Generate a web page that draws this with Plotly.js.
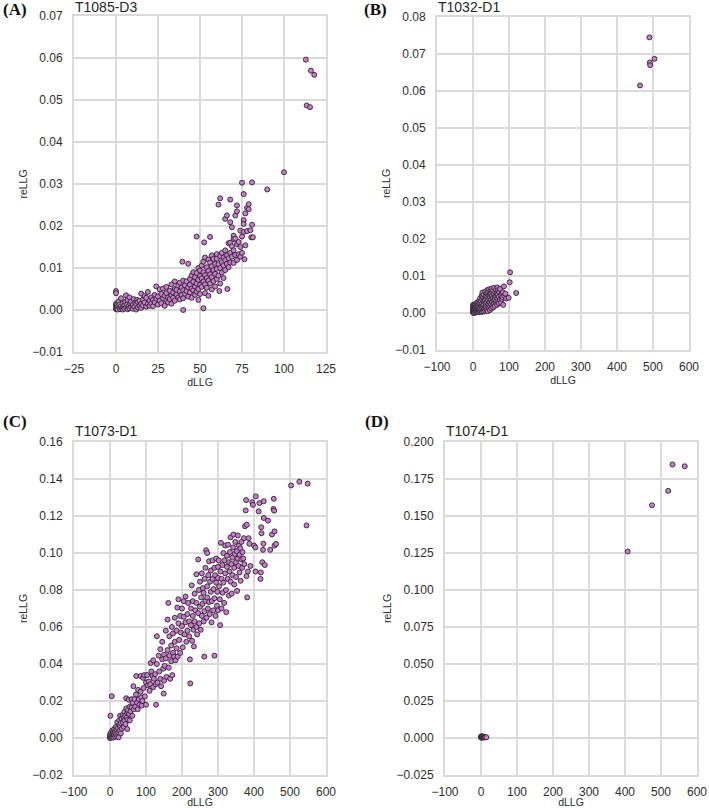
<!DOCTYPE html>
<html>
<head>
<meta charset="utf-8">
<script src="https://cdn.plot.ly/plotly-3.0.1.min.js"></script>
<style>html,body{margin:0;padding:0;background:#fff;}#chart{width:709px;height:808px;}</style>
</head>
<body>
<div id="chart"></div>
<script>
// Panel labels and titles
const panelLabels = ["(A)", "(B)", "(C)", "(D)"];
const panelTitles = ["T1085-D3", "T1032-D1", "T1073-D1", "T1074-D1"];
const xLabel = "dLLG";
const yLabel = "reLLG";

// Panel A: T1085-D3
const aX = [0,0,0,0,0,0,0.5,0.5,1,1,
1.5,2,2,2.5,3,3,3.5,4,4,4.5,
5,5,5.5,6,6,6.5,7,7,7.5,8,
8,8.5,9,9,10,10,10.5,11,11.5,12,
12,12.5,13,13,14,14,15,15,15,16,
16,17,17,18,18,19,19,20,20,21,
21,22,22,23,23,24,24,25,25,26,
26,27,27,28,28,29,29,30,30,30,
31,31,32,32,33,33,33,34,34,35,
35,35,36,36,37,37,38,38,38,39,
39,39.5,40,40,40,40,41,41,42,42,
43,43,43,44,44,44,45,45,45,46,
46,46,47,47,47,48,48,48,48,49,
49,49,49,50,50,50,50,51,51,51,
52,52,52,52,52.5,53,53,53,53,54,
54,54,55,55,55,55,56,56,56,56,
57,57,57,57,58,58,58,59,59,59,
60,60,60,60,61,61,61,61.5,62,62,
62,62,63,63,63,64,64,64,65,65,
65,65,66,66,66,66.3,67,67,67,68,
68,68,68,68,69,69,69,70,70,70,
70,71,71,71,72,72,72,72,73,73,
74,74,74,75,75,75,76,76,76,76,
76.5,77,77,78,78,79,79,80,80.5,81,
81,81.5,90,100,113,116,118,113.5,115.5];
const aY = [0.0045,0.0040,0.0015,0.0010,0.0005,0.0002,0.0012,0.0003,0.0008,0.0001,
0.0020,0.0005,0.0013,0.0002,0.0028,0.0009,0.0004,0.0016,0.0001,0.0007,
0.0011,0.0003,0.0019,0.0035,0.0006,0.0013,0.0002,0.0024,0.0009,0.0030,
0.0004,0.0015,0.0007,0.0020,0.0003,0.0012,0.0026,0.0008,0.0018,0.0001,
0.0014,0.0024,0.0006,0.0019,0.0010,0.0022,0.0005,0.0015,0.0039,0.0011,
0.0025,0.0033,0.0018,0.0008,0.0029,0.0043,0.0015,0.0022,0.0010,0.0030,
0.0016,0.0024,0.0009,0.0036,0.0019,0.0056,0.0027,0.0013,0.0032,0.0049,
0.0022,0.0016,0.0038,0.0051,0.0028,0.0010,0.0034,0.0055,0.0023,0.0040,
0.0018,0.0030,0.0046,0.0026,0.0061,0.0035,0.0015,0.0042,0.0029,0.0068,
0.0050,0.0022,0.0037,0.0048,0.0058,0.0030,0.0044,0.0065,0.0025,0.0053,
0.0036,0.0115,0.0000,0.0047,0.0070,0.0028,0.0059,0.0039,0.0068,0.0045,
0.0110,0.0054,0.0032,0.0074,0.0060,0.0042,0.0082,0.0051,0.0029,0.0067,
0.0047,0.0090,0.0078,0.0056,0.0036,0.0088,0.0063,0.0044,0.0175,0.0100,
0.0072,0.0050,0.0024,0.0094,0.0081,0.0060,0.0038,0.0106,0.0075,0.0055,
0.0115,0.0090,0.0068,0.0004,0.0161,0.0125,0.0083,0.0061,0.0040,0.0102,
0.0076,0.0053,0.0120,0.0093,0.0070,0.0034,0.0174,0.0113,0.0085,0.0063,
0.0130,0.0104,0.0078,0.0049,0.0122,0.0095,0.0069,0.0110,0.0086,0.0056,
0.0133,0.0122,0.0098,0.0074,0.0251,0.0109,0.0082,0.0045,0.0266,0.0128,
0.0100,0.0063,0.0136,0.0114,0.0089,0.0125,0.0106,0.0076,0.0142,0.0119,
0.0217,0.0095,0.0225,0.0130,0.0110,0.0050,0.0159,0.0123,0.0102,0.0263,
0.0209,0.0160,0.0136,0.0113,0.0197,0.0152,0.0127,0.0177,0.0169,0.0142,
0.0112,0.0225,0.0170,0.0131,0.0249,0.0235,0.0157,0.0119,0.0133,0.0162,
0.0189,0.0150,0.0127,0.0303,0.0175,0.0136,0.0276,0.0214,0.0205,0.0186,
0.0121,0.0230,0.0154,0.0243,0.0188,0.0252,0.0240,0.0190,0.0173,0.0304,
0.0203,0.0173,0.0287,0.0328,0.0596,0.0570,0.0560,0.0487,0.0483];

// Panel B: T1032-D1
const bX = [0,0,0,0,0,1,1,2,2,2,
3,3,4,4,5,5,5,6,6,7,
7,8,8,9,10,10,10,11,12,12,
13,13,14,15,15,15,16,17,17,18,
18,19,20,20,20,21,22,22,23,24,
24,25,25,26,26,27,28,28,29,30,
30,30,31,32,32,33,34,34,35,35,
36,37,38,38,39,40,40,40,41,42,
42,43,44,44,45,45,46,47,47,48,
48,49,50,50,50,51,52,52,53,54,
54,55,56,56,57,58,58,59,60,60,
61,62,63,64,64,65,66,67,68,68,
69,70,70,72,72,73,75,75,77,78,
80,80,82,83,84,86,87,90,92,99,
102,103,120,464,490,491,492,504];
const bY = [0.0001,0.0005,0.0010,0.0015,0.0022,0.0003,0.0018,0.0000,0.0008,0.0013,
0.0005,0.0020,0.0002,0.0011,0.0006,0.0016,0.0024,0.0001,0.0009,0.0014,
0.0022,0.0004,0.0009,0.0018,0.0002,0.0012,0.0025,0.0007,0.0016,0.0029,
0.0003,0.0010,0.0021,0.0005,0.0014,0.0030,0.0009,0.0024,0.0002,0.0017,
0.0034,0.0006,0.0012,0.0026,0.0040,0.0004,0.0019,0.0032,0.0008,0.0024,
0.0046,0.0014,0.0003,0.0036,0.0055,0.0020,0.0007,0.0043,0.0015,0.0030,
0.0050,0.0004,0.0023,0.0040,0.0011,0.0034,0.0058,0.0006,0.0026,0.0046,
0.0016,0.0038,0.0052,0.0009,0.0029,0.0044,0.0019,0.0062,0.0005,0.0034,
0.0055,0.0024,0.0048,0.0013,0.0039,0.0064,0.0029,0.0051,0.0008,0.0042,
0.0018,0.0060,0.0035,0.0024,0.0053,0.0012,0.0046,0.0066,0.0030,0.0056,
0.0020,0.0040,0.0061,0.0015,0.0033,0.0050,0.0026,0.0068,0.0043,0.0019,
0.0036,0.0056,0.0027,0.0064,0.0046,0.0033,0.0052,0.0022,0.0069,0.0040,
0.0050,0.0030,0.0062,0.0044,0.0026,0.0056,0.0036,0.0065,0.0048,0.0028,
0.0053,0.0038,0.0043,0.0056,0.0022,0.0072,0.0047,0.0052,0.0039,0.0041,
0.0083,0.0110,0.0054,0.0615,0.0745,0.0677,0.0670,0.0687];

// Panel C: T1073-D1
const cX = [0,0,0,1,2,3,4,5,5,6,
7,8,9,10,10,12,12,14,15,16,
17,18,20,20,22,23,24,25,26,27,
28,28,30,30,32,33,35,36,38,38,
40,40,42,43,45,45,46,48,48,50,
50,52,53,55,55,57,60,60,62,63,
65,66,68,70,72,73,75,77,78,80,
82,85,85,87,88,90,92,93,95,97,
100,100,103,105,108,110,112,113,115,118,
120,120,122,125,127,128,130,130,132,135,
137,140,140,142,145,145,148,149,150,150,
152,155,155,157,160,160,162,163,165,165,
167,170,170,172,173,175,175,178,180,180,
182,185,185,187,188,190,190,192,195,195,
197,200,200,202,205,205,207,210,210,212,
215,215,217,220,220,222,223,225,225,227,
228,230,230,232,233,235,235,237,240,240,
240,242,245,245,247,248,250,250,252,253,
255,255,257,258,260,260,262,262,263,265,
265,267,268,270,270,270,272,273,275,275,
277,278,280,280,282,283,285,285,287,288,
290,290,290,292,293,295,295,297,298,300,
300,300,302,303,305,306,307,308,310,310,
312,313,315,315,317,318,320,320,322,323,
325,325,327,328,330,330,332,333,335,335,
337,338,340,340,342,343,345,345,347,348,
350,350,352,353,355,355,357,358,360,360,
362,363,365,365,367,368,370,372,373,375,
377,378,379,380,381,383,385,387,390,395,
397,400,404,405,413,415,418,419,420,421,
423,425,426,427,427,430,439,445,450,454,
455,456,457,457,461,503,526,549,546,404];
const cY = [0.0000,0.0010,0.0020,0.0120,0.0005,0.0030,0.0012,0.0226,0.0002,0.0040,
0.0018,0.0008,0.0035,0.0024,0.0003,0.0050,0.0015,0.0030,0.0006,0.0060,
0.0020,0.0045,0.0085,0.0010,0.0055,0.0030,0.0004,0.0070,0.0096,0.0040,
0.0120,0.0065,0.0080,0.0025,0.0105,0.0050,0.0125,0.0085,0.0110,0.0060,
0.0140,0.0095,0.0120,0.0075,0.0215,0.0160,0.0110,0.0135,0.0048,0.0100,
0.0150,0.0207,0.0130,0.0170,0.0095,0.0145,0.0210,0.0165,0.0120,0.0190,
0.0280,0.0155,0.0210,0.0170,0.0235,0.0335,0.0190,0.0155,0.0260,0.0210,
0.0180,0.0335,0.0250,0.0220,0.0175,0.0200,0.0325,0.0270,0.0340,0.0225,
0.0300,0.0180,0.0340,0.0285,0.0305,0.0255,0.0290,0.0405,0.0360,0.0335,
0.0275,0.0420,0.0320,0.0345,0.0290,0.0180,0.0550,0.0400,0.0300,0.0445,
0.0360,0.0320,0.0480,0.0280,0.0520,0.0425,0.0375,0.0240,0.0450,0.0310,
0.0390,0.0580,0.0430,0.0330,0.0640,0.0475,0.0730,0.0380,0.0445,0.0550,
0.0320,0.0500,0.0415,0.0600,0.0340,0.0460,0.0565,0.0440,0.0520,0.0650,
0.0420,0.0485,0.0580,0.0705,0.0440,0.0750,0.0620,0.0530,0.0460,0.0660,
0.0570,0.0700,0.0605,0.0490,0.0655,0.0740,0.0560,0.0625,0.0765,0.0520,
0.0670,0.0580,0.0730,0.0630,0.0550,0.0425,0.0295,0.0700,0.0610,0.0825,
0.0525,0.0660,0.0740,0.0585,0.0495,0.0630,0.0780,0.0690,0.0600,0.0730,
0.0885,0.0560,0.0675,0.0965,0.0800,0.0620,0.0710,0.0845,0.0585,0.0760,
0.0660,0.0890,0.0725,0.0810,0.0630,0.0785,0.0440,0.0685,0.0860,0.0740,
0.0920,0.1015,0.0650,0.0820,0.0760,0.1000,0.0700,0.0880,0.0735,0.0955,
0.0670,0.0845,0.0790,0.0905,0.0625,0.0740,0.0860,0.0960,0.0690,0.0805,
0.0445,0.0920,0.0755,0.0880,0.0660,0.0840,0.0970,0.0715,0.0790,0.0925,
0.0865,0.0690,0.0960,0.0820,0.0750,0.0610,0.0900,0.1055,0.0860,0.0700,
0.0935,0.0785,0.1000,0.0840,0.0730,0.0960,0.0890,0.1040,0.0800,0.0680,
0.0925,0.0985,0.0860,0.1045,0.0950,0.0770,0.0900,0.1005,0.0845,0.1085,
0.0940,0.0780,0.0975,0.0880,0.1030,0.1100,0.0920,0.0830,0.0995,0.1060,
0.0950,0.0870,0.1010,0.0795,0.0970,0.1095,0.0930,0.1040,0.0895,0.0990,
0.1025,0.0850,0.0965,0.1060,0.0920,0.1005,0.0970,0.1080,0.0940,0.1145,
0.1230,0.1286,0.0875,0.1153,0.0760,0.0900,0.1080,0.1050,0.0930,0.1275,
0.1260,0.1040,0.1030,0.1306,0.1225,0.1270,0.0860,0.0895,0.1139,0.1107,
0.0950,0.1017,0.1050,0.1280,0.1189,0.0935,0.1175,0.1017,0.1100,0.1238,
0.1293,0.1229,0.1117,0.1040,0.1049,0.1365,0.1385,0.1375,0.1149,0.0900];

// Panel D: T1074-D1
const dX = [0,0,1,2,2,3,4,5,6,7,8,10,12,15,407.5,475,520,532,566];
const dY = [0.0005,0.0010,0.0002,0.0008,0.0004,0.0012,0.0006,0.0003,0.0009,0.0005,0.0007,0.0004,0.0005,0.0005,0.1260,0.1572,0.1670,0.1848,0.1836];

const xRanges = [[-25,125],[-100,600],[-100,600],[-100,600]];
const xDticks = [25,100,100,100];
const yRanges = [[-0.01,0.07],[-0.01,0.08],[-0.02,0.16],[-0.025,0.2]];
const yDticks = [0.01,0.01,0.02,0.025];
const yFormats = [".2f",".2f",".2f",".3f"];

const W = 709, H = 808;
// plot-area boxes in pixels [left, right, top, bottom]
const boxes = [[74,326,16,352],[437,689,17,350],[74,326,442,775],[445,697,442,775]];
const labelPos = [[1,9],[362,9],[1,421],[363,421]];
const titlePos = [[73,7],[436,7],[73,431],[444,431]];

const xs = [aX,bX,cX,dX];
const ys = [aY,bY,cY,dY];

const gridC = "#dadada";
const tickFont = {family:"Liberation Sans, Arial, sans-serif", size:12, color:"#2e2e2e"};
const titleFont = {family:"Liberation Sans, Arial, sans-serif", size:10.5, color:"#2e2e2e"};

const data = [];
const layout = {
  width: W, height: H,
  margin: {l:0,r:0,t:0,b:0},
  paper_bgcolor: "#fff", plot_bgcolor: "#fff",
  showlegend: false,
  annotations: []
};

for (let i=0;i<4;i++){
  const sfx = i===0 ? "" : String(i+1);
  data.push({
    type:"scatter", mode:"markers",
    x: xs[i], y: ys[i],
    xaxis: "x"+sfx, yaxis: "y"+sfx,
    marker: {size:5, color:"#cb7bd0", line:{color:"#262626", width:0.9}},
    hoverinfo:"skip"
  });
  const b = boxes[i];
  layout["xaxis"+sfx] = {
    domain:[b[0]/W, b[1]/W], anchor:"y"+sfx,
    range: xRanges[i], dtick: xDticks[i], tick0: 0,
    showgrid:true, gridcolor:gridC, gridwidth:2,
    zeroline:false, showline:true, linecolor:gridC, linewidth:2, mirror:true,
    ticks:"", ticklabelstandoff:5,
    tickfont: tickFont,
    title:{text:xLabel, font:titleFont, standoff:1}
  };
  layout["yaxis"+sfx] = {
    domain:[1-b[3]/H, 1-b[2]/H], anchor:"x"+sfx,
    range: yRanges[i], dtick: yDticks[i], tick0: 0, tickformat: yFormats[i],
    showgrid:true, gridcolor:gridC, gridwidth:2,
    zeroline:false, showline:true, linecolor:gridC, linewidth:2, mirror:true,
    ticks:"", ticklabelstandoff:7,
    tickfont: tickFont,
    title:{text:yLabel, font:titleFont, standoff:3}
  };
  layout.annotations.push({
    xref:"paper", yref:"paper", x: labelPos[i][0]/W, y: 1-labelPos[i][1]/H,
    xanchor:"left", yanchor:"middle", showarrow:false,
    text:"<b>"+panelLabels[i]+"</b>",
    font:{family:"Liberation Serif, Times New Roman, serif", size:17, color:"#111"}
  });
  layout.annotations.push({
    xref:"paper", yref:"paper", x: titlePos[i][0]/W, y: 1-titlePos[i][1]/H,
    xanchor:"left", yanchor:"middle", showarrow:false,
    text: panelTitles[i],
    font:{family:"Liberation Sans, Arial, sans-serif", size:14, color:"#262626"}
  });
}

Plotly.newPlot("chart", data, layout, {displayModeBar:false, staticPlot:true});
</script>
</body>
</html>
